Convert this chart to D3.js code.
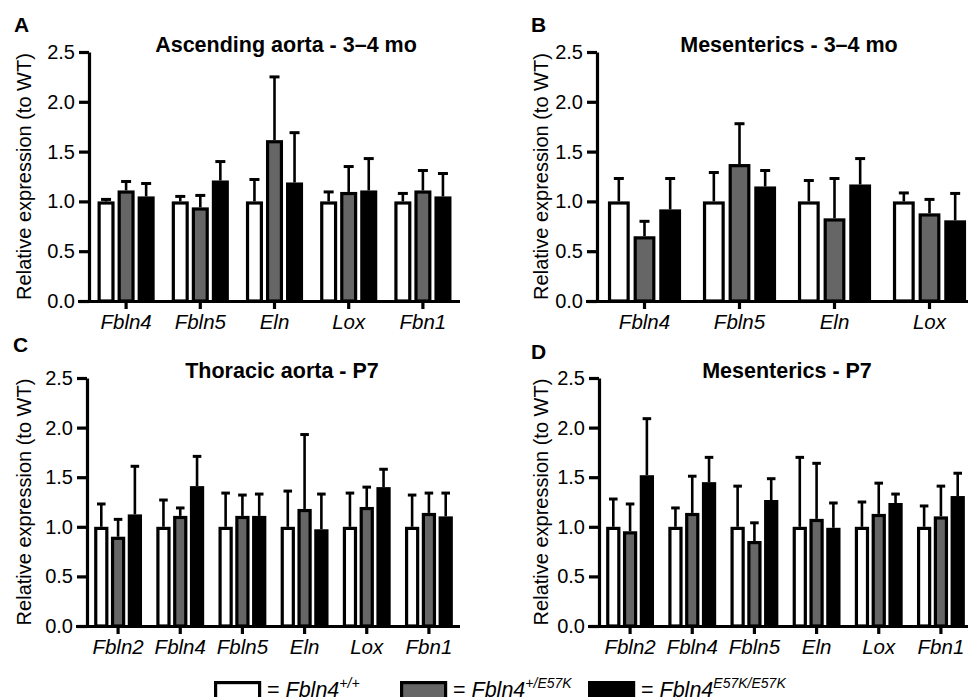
<!DOCTYPE html>
<html>
<head>
<meta charset="utf-8">
<script src="https://cdn.jsdelivr.net/npm/d3@7"></script>
<style>
  html, body { margin: 0; padding: 0; background: #fff; overflow: hidden; }
  svg { display: block; font-family: "Liberation Sans", Arial, sans-serif; }
</style>
</head>
<body>
<svg id="chart" width="968" height="697"></svg>
<script>
// genotype series, in drawing order
const series = ["wt", "het", "hom"];
const fills = { wt: "#ffffff", het: "#666666", hom: "#000000" };

// A - Ascending aorta 3-4 mo
const genesA = ["Fbln4", "Fbln5", "Eln", "Lox", "Fbn1"];
const meanA = [
  [1, 1, 1, 1, 1],
  [1.11, 0.94, 1.615, 1.095, 1.11],
  [1.05, 1.21, 1.19, 1.11, 1.05]
];
const errA = [
  [0.02, 0.05, 0.22, 0.095, 0.08],
  [0.09, 0.12, 0.635, 0.255, 0.20],
  [0.13, 0.19, 0.50, 0.32, 0.23]
];

// B - Mesenterics 3-4 mo (Fbn1 group falls outside the picture)
const genesB = ["Fbln4", "Fbln5", "Eln", "Lox"];
const meanB = [
  [1, 1, 1, 1],
  [0.65, 1.375, 0.83, 0.88],
  [0.92, 1.15, 1.17, 0.81]
];
const errB = [
  [0.23, 0.29, 0.21, 0.085],
  [0.15, 0.405, 0.40, 0.14],
  [0.31, 0.16, 0.26, 0.27]
];

// C - Thoracic aorta P7
const genesC = ["Fbln2", "Fbln4", "Fbln5", "Eln", "Lox", "Fbn1"];
const meanC = [
  [1, 1, 1, 1, 1, 1],
  [0.90, 1.11, 1.11, 1.18, 1.20, 1.14],
  [1.125, 1.41, 1.11, 0.975, 1.40, 1.105]
];
const errC = [
  [0.23, 0.27, 0.34, 0.36, 0.34, 0.32],
  [0.175, 0.08, 0.21, 0.75, 0.20, 0.20],
  [0.485, 0.30, 0.22, 0.355, 0.18, 0.235]
];

// D - Mesenterics P7
const genesD = ["Fbln2", "Fbln4", "Fbln5", "Eln", "Lox", "Fbn1"];
const meanD = [
  [1, 1, 1, 1, 1, 1],
  [0.955, 1.14, 0.857, 1.08, 1.13, 1.105],
  [1.52, 1.45, 1.27, 0.99, 1.24, 1.31]
];
const errD = [
  [0.28, 0.19, 0.41, 0.70, 0.25, 0.21],
  [0.275, 0.37, 0.183, 0.56, 0.31, 0.305],
  [0.57, 0.25, 0.215, 0.25, 0.09, 0.23]
];

const yTicks = [0, 0.5, 1.0, 1.5, 2.0, 2.5];
const yLabel = "Relative expression (to WT)";

const legendSup = ["+/+", "+/E57K", "E57K/E57K"];

const svg = d3.select("#chart");

const panels = [
  { letter: "A", title: "Ascending aorta - 3\u20134 mo", genes: genesA, mean: meanA, err: errA,
    x: [89, 460], y: [301, 52], letterPos: [14, 32], titleX: 286, labelX: 24 },
  { letter: "B", title: "Mesenterics - 3\u20134 mo", genes: genesB, mean: meanB, err: errB,
    x: [597, 977], y: [301, 52], letterPos: [531, 32], titleX: 789, labelX: 541 },
  { letter: "C", title: "Thoracic aorta - P7", genes: genesC, mean: meanC, err: errC,
    x: [87, 460], y: [626, 378], letterPos: [13, 352], titleX: 282, labelX: 24 },
  { letter: "D", title: "Mesenterics - P7", genes: genesD, mean: meanD, err: errD,
    x: [599, 972], y: [626, 378], letterPos: [531, 359], titleX: 787, labelX: 541 }
];

panels.forEach((p) => {
  const g = svg.append("g");

  const x0 = d3.scaleBand().domain(p.genes).range(p.x)
    .paddingInner(0.23).paddingOuter(0.115);
  const x1 = d3.scaleBand().domain(series).range([0, x0.bandwidth()])
    .paddingInner(0.15);
  const y = d3.scaleLinear().domain([0, 2.5]).range(p.y);

  const bw = x1.bandwidth();
  const cap = Math.min(10, bw * 0.6);

  series.forEach((s, si) => {
    const rows = p.genes.map((gene, i) => ({ gene, v: p.mean[si][i], e: p.err[si][i] }));
    const sg = g.append("g");

    // error bars (upper only)
    sg.selectAll(".stem").data(rows).enter().append("line")
      .attr("x1", (d) => x0(d.gene) + x1(s) + bw / 2)
      .attr("x2", (d) => x0(d.gene) + x1(s) + bw / 2)
      .attr("y1", (d) => y(d.v))
      .attr("y2", (d) => y(d.v + d.e))
      .attr("stroke", "#000").attr("stroke-width", 2.6);
    sg.selectAll(".cap").data(rows).enter().append("line")
      .attr("x1", (d) => x0(d.gene) + x1(s) + bw / 2 - cap / 2)
      .attr("x2", (d) => x0(d.gene) + x1(s) + bw / 2 + cap / 2)
      .attr("y1", (d) => y(d.v + d.e))
      .attr("y2", (d) => y(d.v + d.e))
      .attr("stroke", "#000").attr("stroke-width", 3);

    sg.selectAll("rect").data(rows).enter().append("rect")
      .attr("x", (d) => x0(d.gene) + x1(s) + 1.6)
      .attr("width", bw - 3.2)
      .attr("y", (d) => y(d.v) + 1.6)
      .attr("height", (d) => y(0) - y(d.v) - 1.6)
      .attr("fill", fills[s])
      .attr("stroke", "#000")
      .attr("stroke-width", 3.2);
  });

  // y axis
  const ya = g.append("g")
    .attr("transform", `translate(${p.x[0]},0)`)
    .call(d3.axisLeft(y).tickValues(yTicks).tickFormat(d3.format(".1f"))
      .tickSize(10).tickSizeOuter(0).tickPadding(4));
  ya.select(".domain").attr("stroke-width", 3.2);
  ya.selectAll(".tick line").attr("stroke-width", 3.2);
  ya.selectAll(".tick text").attr("font-size", 20).attr("fill", "#000")
    .attr("font-family", "Liberation Sans, Arial, sans-serif");

  // x axis
  const xa = g.append("g")
    .attr("transform", `translate(0,${p.y[0]})`)
    .call(d3.axisBottom(x0).tickSize(8).tickSizeOuter(0).tickPadding(5));
  xa.select(".domain").attr("stroke-width", 3.2).attr("d", `M${p.x[0] - 11},0.5H${p.x[1]}`);
  xa.selectAll(".tick line").attr("stroke-width", 3.2);
  xa.selectAll(".tick text").attr("font-size", 20.5).attr("font-style", "italic").attr("fill", "#000")
    .attr("font-family", "Liberation Sans, Arial, sans-serif");

  // y label
  g.append("text")
    .attr("transform", `translate(${p.labelX},${(p.y[0] + p.y[1]) / 2}) rotate(-90)`)
    .attr("text-anchor", "middle")
    .attr("dy", "0.35em")
    .attr("font-size", 20)
    .text(yLabel);

  // title
  g.append("text")
    .attr("x", p.titleX).attr("y", p.y[1])
    .attr("text-anchor", "middle")
    .attr("font-size", 21.5).attr("font-weight", "bold")
    .text(p.title);

  // panel letter
  g.append("text")
    .attr("x", p.letterPos[0]).attr("y", p.letterPos[1])
    .attr("font-size", 21).attr("font-weight", "bold")
    .text(p.letter);
});

// legend
const legendX = [214, 400, 588];
const lg = svg.append("g");
series.forEach((s, i) => {
  lg.append("rect")
    .attr("x", legendX[i] + 1.6).attr("y", 682.6)
    .attr("width", 44).attr("height", 30)
    .attr("fill", fills[s]).attr("stroke", "#000").attr("stroke-width", 3.2);
  const t = lg.append("text").attr("x", legendX[i] + 53).attr("y", 697).attr("font-size", 21.5);
  t.append("tspan").text("= ");
  t.append("tspan").attr("font-style", "italic").text("Fbln4");
  t.append("tspan").attr("font-style", "italic").attr("font-size", 14)
    .attr("dy", -9).text(legendSup[i]);
});
</script>
</body>
</html>
